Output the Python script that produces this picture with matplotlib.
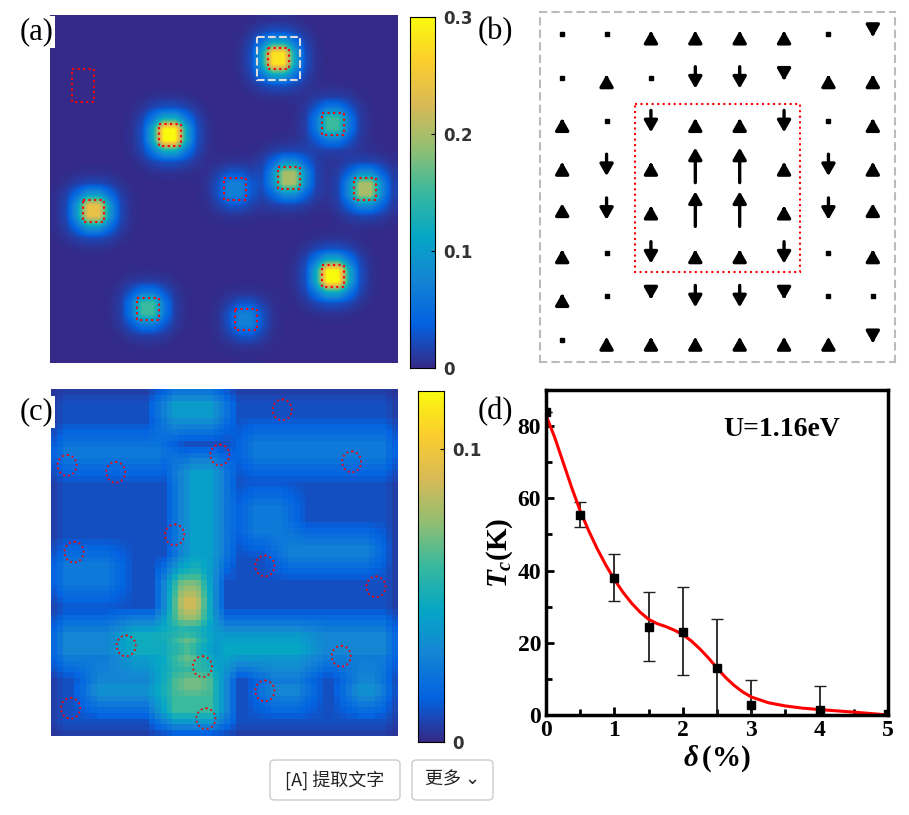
import numpy as np
import matplotlib
matplotlib.use("Agg")
import matplotlib.pyplot as plt
from matplotlib.colors import LinearSegmentedColormap
from matplotlib.patches import Rectangle, Ellipse, FancyBboxPatch

plt.rcParams["mathtext.fontset"] = "custom"
plt.rcParams["mathtext.it"] = "Liberation Serif:italic:bold"
plt.rcParams["mathtext.rm"] = "Liberation Serif:bold"

# parula-like colormap
parula = LinearSegmentedColormap.from_list("parula", [
    "#352a87", "#0363e1", "#1485d4", "#06a7c6", "#38b99e",
    "#92bf73", "#d9ba56", "#fcce2e", "#f9fb0e"])

# ---- panel (a) data: spot corners (col,row in 32x32 grid) and amplitude
a_cols = [20, 10, 25, 21, 16, 28, 3, 25, 8, 17]
a_rows = [3, 10, 9, 14, 15, 15, 17, 23, 26, 27]
a_amp = [0.28, 0.30, 0.15, 0.20, 0.07, 0.20, 0.24, 0.30, 0.15, 0.07]
a_empty_col, a_empty_row = 2, 5

# ---- panel (b) data: 8x8 moment map (0 dot, +-1 short, -2 medium down, 3 long up)
b_moments = [
    [0, 0, 1, 1, 1, 1, 0, -1],
    [0, 1, 0, -2, -2, -1, 1, 1],
    [1, 0, -2, 1, 1, -2, 0, 1],
    [1, -2, 1, 3, 3, 1, -2, 1],
    [1.3, -2, 1, 3, 3, 1, -2, 1.3],
    [1, 0, -2, 1, 1, -2, 0, 1],
    [1, 0, -1, -2, -2, -1, 0, 0],
    [0, 1, 1, 1, 1, 1, 1, -1],
]

# ---- panel (c) data: rectangles (x0, x1, y0, y1 in fraction, value)
c_blocks = [
    (0.00, 0.35, 0.14, 0.24, 0.025), (0.55, 1.00, 0.12, 0.24, 0.025),
    (0.65, 0.95, 0.42, 0.52, 0.028), (0.00, 0.20, 0.48, 0.60, 0.025),
    (0.55, 0.70, 0.30, 0.45, 0.025), (0.33, 0.50, 0.00, 0.12, 0.040),
    (0.38, 0.50, 0.20, 0.52, 0.042), (0.00, 1.00, 0.68, 0.80, 0.030),
    (0.20, 0.38, 0.68, 0.80, 0.048), (0.47, 0.75, 0.70, 0.80, 0.045),
    (0.34, 0.47, 0.52, 0.70, 0.060), (0.38, 0.44, 0.58, 0.68, 0.095),
    (0.10, 0.35, 0.82, 0.92, 0.035), (0.60, 0.75, 0.82, 0.92, 0.030),
    (0.85, 0.98, 0.82, 0.92, 0.035), (0.33, 0.50, 0.80, 0.98, 0.060),
    (0.39, 0.44, 0.82, 0.86, 0.100), (0.38, 0.44, 0.74, 0.78, 0.120),
]
c_marks_x = [.64, .46, .84, .02, .16, .33, .04, .59, .91, .19, .81, .41, .59, .03, .42]
c_marks_y = [.03, .16, .18, .19, .21, .39, .44, .48, .54, .71, .74, .77, .84, .89, .92]

# ---- panel (d) data
delta = [0, 0.5, 1, 1.5, 2, 2.5, 3, 4, 5]
tc = [84, 55.5, 38, 24.5, 23, 13, 2.8, 1.5, 0.3]
err_lo = [0, 3.5, 6.5, 9.5, 12, 13, 2.8, 1.5, 0]
err_hi = [0, 3.5, 6.5, 9.5, 12.5, 13.5, 7, 6.5, 0]
fit_x = [0, 0.125, 0.25, 0.375, 0.5, 0.625, 0.75, 0.875, 1, 1.125, 1.25, 1.375, 1.5, 1.625,
         1.75, 1.875, 2, 2.125, 2.25, 2.375, 2.5, 2.625, 2.75, 2.875, 3, 3.25, 3.5, 3.75, 4, 4.5, 5]
fit_y = [83, 77, 70, 63, 56.5, 51, 46, 41.5, 37.5, 34, 31, 28.5, 26.5, 25.3,
         24.5, 23.5, 22.3, 20.5, 18.3, 15.8, 13, 10.4, 8.2, 6.4, 5, 3.4, 2.5, 1.9, 1.5, 0.8, 0]

fig = plt.figure(figsize=(9.09, 8.15), dpi=100)
W, H = 909, 815


def ax_px(x0, y0, x1, y1):
    return fig.add_axes([x0 / W, 1 - y1 / H, (x1 - x0) / W, (y1 - y0) / H])


serif = "Liberation Serif"

# (a)
n = 32
img = np.zeros((n, n))
yy, xx = np.mgrid[0:n, 0:n]
for c, r, a in zip(a_cols, a_rows, a_amp):
    dx = np.maximum(np.abs(xx - c - 0.5) - 0.5, 0)
    dy = np.maximum(np.abs(yy - r - 0.5) - 0.5, 0)
    img += a * (0.75 * np.exp(-(dx ** 2 + dy ** 2) / 0.8) + 0.25 * np.exp(-(dx ** 2 + dy ** 2) / 3.5))
axa = ax_px(48, 15, 400, 363)
axa.imshow(img, cmap=parula, vmin=0, vmax=0.3, extent=[0, n, n, 0], interpolation="bilinear")
for c, r in zip(a_cols, a_rows):
    axa.add_patch(Rectangle((c, r), 2, 2, fill=False, ec="red", ls=":", lw=1.5))
axa.add_patch(Rectangle((a_empty_col, a_empty_row), 2, 3, fill=False, ec="red", ls=":", lw=1.5))
axa.add_patch(Rectangle((a_cols[0] - 1, a_rows[0] - 1), 4, 4, fill=False, ec="#dddddd", ls="--", lw=1.5))
axa.set_xticks([]); axa.set_yticks([])
for s in axa.spines.values():
    s.set_visible(False)
cba = ax_px(410, 17, 435, 368)
cba.imshow(np.linspace(0.3, 0, 256)[:, None], cmap=parula, aspect="auto", extent=[0, 1, 0, 0.3])
cba.set_xticks([]); cba.yaxis.tick_right()
cba.set_yticks([0, 0.1, 0.2, 0.3]); cba.set_yticklabels(["0", "0.1", "0.2", "0.3"], fontsize=12, fontweight="bold", color="#333")
cba.tick_params(axis="y", direction="in", length=3, pad=6)

# (b)
axb = ax_px(540, 12, 895, 362)
axb.set_xlim(-0.5, 7.5); axb.set_ylim(7.5, -0.5)
axb.set_xticks([]); axb.set_yticks([])
for s in axb.spines.values():
    s.set_edgecolor("#bbbbbb"); s.set_linestyle((0, (3, 3))); s.set_linewidth(1.5)
for r, row in enumerate(b_moments):
    for c, m in enumerate(row):
        if m == 0:
            axb.plot(c, r, "s", color="k", ms=3)
            continue
        sign = -1 if m > 0 else 1  # up on screen is negative y
        L = {1: 0.14, 1.3: 0.25, 2: 0.5, 3: 0.8}[abs(m)]
        axb.annotate("", xy=(c, r + sign * L / 2), xytext=(c, r - sign * L / 2),
                     arrowprops=dict(arrowstyle="-|>,head_width=0.4,head_length=0.7", color="k", lw=2.4, shrinkA=0, shrinkB=0))
axb.add_patch(Rectangle((1.65, 1.6), 3.7, 3.85, fill=False, ec="red", ls=":", lw=1.5))

# (c)
m = 60
cimg = np.full((m, m), 0.010)
for x0, x1, y0, y1, v in c_blocks:
    sl = (slice(int(y0 * m), int(y1 * m)), slice(int(x0 * m), int(x1 * m)))
    cimg[sl] = np.maximum(cimg[sl], v)
k = np.ones(5) / 5
cimg = np.apply_along_axis(lambda v: np.convolve(v, k, mode="same"), 0, cimg)
cimg = np.apply_along_axis(lambda v: np.convolve(v, k, mode="same"), 1, cimg)
axc = ax_px(50, 389, 400, 736)
axc.imshow(cimg, cmap=parula, vmin=0, vmax=0.12, extent=[0, 1, 1, 0], interpolation="nearest")
for x, y in zip(c_marks_x, c_marks_y):
    axc.add_patch(Ellipse((x + 0.025, y + 0.03), 0.055, 0.06, fill=False, ec="red", ls=":", lw=1.3))
axc.set_xlim(0, 1); axc.set_ylim(1, 0)
axc.set_xticks([]); axc.set_yticks([])
for s in axc.spines.values():
    s.set_visible(False)
cbc = ax_px(418, 391, 444, 742)
cbc.imshow(np.linspace(0.12, 0, 256)[:, None], cmap=parula, aspect="auto", extent=[0, 1, 0, 0.12])
cbc.set_xticks([]); cbc.yaxis.tick_right()
cbc.set_yticks([0, 0.1]); cbc.set_yticklabels(["0", "0.1"], fontsize=12, fontweight="bold", color="#333")
cbc.tick_params(axis="y", direction="in", length=3, pad=6)

# (d)
axd = ax_px(546, 390, 888, 715)
axd.errorbar(delta, tc, yerr=[err_lo, err_hi], fmt="none", ecolor="#222", elinewidth=1.3, capsize=4)
axd.plot(fit_x, fit_y, color="red", lw=2.2)
axd.plot(delta, tc, "s", color="k", ms=6)
axd.set_xlim(0, 5); axd.set_ylim(0, 90)
axd.set_xticks(range(6)); axd.set_yticks([0, 20, 40, 60, 80])
axd.set_xticks(np.arange(0.5, 5, 1), minor=True); axd.set_yticks(np.arange(10, 90, 20), minor=True)
axd.tick_params(which="both", direction="in", width=2, labelsize=17)
axd.tick_params(which="major", length=6); axd.tick_params(which="minor", length=4)
for lab in axd.get_xticklabels() + axd.get_yticklabels():
    lab.set_fontfamily(serif); lab.set_fontweight("bold")
for s in axd.spines.values():
    s.set_linewidth(2.5)
axd.set_xlabel(r"$\delta\,\mathrm{(\%)}$", fontsize=21, labelpad=2)
axd.set_ylabel(r"$T_c\mathrm{(K)}$", fontsize=21, labelpad=2)
axd.text(0.86, 0.86, "U=1.16eV", transform=axd.transAxes, ha="right", fontsize=20, fontfamily=serif, fontweight="bold")

# panel labels
for lab, x, y in [("(a)", 20, 32), ("(b)", 478, 32), ("(c)", 20, 412), ("(d)", 478, 412)]:
    fig.text(x / W, 1 - y / H, lab, fontsize=22, fontfamily=serif, va="center",
             bbox=dict(fc="white", ec="none", pad=1))

# screenshot toolbar buttons
for x0, x1, txt in [(270, 400, "[A] 提取文字"), (412, 493, "更多 ⌄")]:
    fig.patches.append(FancyBboxPatch((x0 / W, 1 - 800 / H), (x1 - x0) / W, 40 / H,
                                      boxstyle="round,pad=0,rounding_size=0.005", transform=fig.transFigure,
                                      fc="white", ec="#cccccc", lw=1))
    fig.text((x0 + x1) / 2 / W, 1 - 780 / H, txt, ha="center", va="center", fontsize=13,
             family=["Noto Sans CJK SC", "DejaVu Sans"], color="#222")

fig.savefig("out.png", dpi=100)
